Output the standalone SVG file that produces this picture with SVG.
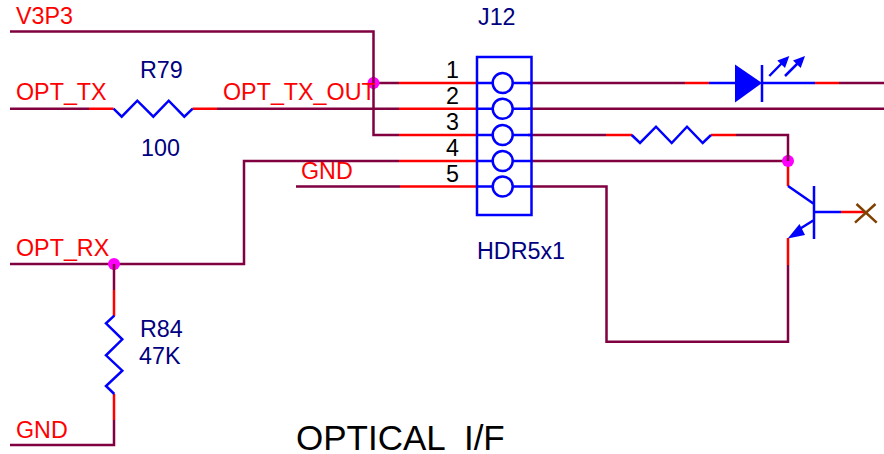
<svg xmlns="http://www.w3.org/2000/svg" width="884" height="454" viewBox="0 0 884 454">
<style>
text{font-family:"Liberation Sans",Arial,sans-serif;font-size:23.300px}
.net{fill:#ff0000}.ref{fill:#000080}.pin{fill:#000000}
.w,.r,.b,.x{fill:none;stroke-width:2.500;stroke-linejoin:miter;stroke-linecap:butt}
.w{stroke:#800040}.r{stroke:#ff0000}.b{stroke:#0000ff}.x{stroke:#804000}
.fb{fill:#0000ff}.dot{fill:#ff00ff}
</style>
<rect width="884" height="454" fill="#ffffff"/>
<g id="connectors">
<path class="w" d="M10 31.500H373.500V135H399"/>
<path class="w" d="M373.500 83H399M10 108.700H89M217 108.700H399M399 161H244V264H10M296 186.500H400M114 264V290M114 420V445H10"/>
<path class="w" d="M528 83H685M839 83H884M528 108.700H884M528 135H606M736 135H788V161M531 161H788M531 186.500H606.500V341.700H788V265"/>
<path class="r" d="M89 108.700H113.500M192.500 108.700H217M399 83H477M399 108.700H477M399 135H477M399 161H477M400 186.500H477M685 83H709M815 83H839M606 135H632M711 135H736M788 161V186M788 238V265M114 290V316M114 394V420M841 212H865"/>
</g>
<g id="R79">
<path class="b" d="M113.500 108.700L121.700 116.700L137.300 100.700L153.300 116.700L168.700 100.700L184.300 116.700L192.700 108.700"/>
<text class="ref" x="140" y="78">R79</text>
<text class="ref" x="141" y="156">100</text>
</g>
<g id="R84">
<path class="b" d="M114.300 315.700L106 323.300L122.300 339.300L106 355.300L122.300 370.700L106 386L114.300 394"/>
<text class="ref" x="140" y="337">R84</text>
<text class="ref" x="139" y="364">47K</text>
</g>
<g id="R-unnamed">
<path class="b" d="M631.700 135L640 143L656 126.700L671.700 143L687 126.700L702.700 143L711 135"/>
</g>
<g id="J12">
<rect class="b" x="477" y="57" width="54.500" height="158"/>
<circle class="b" cx="502.700" cy="83" r="10"/>
<circle class="b" cx="502.700" cy="108.700" r="10"/>
<circle class="b" cx="502.700" cy="135" r="10"/>
<circle class="b" cx="502.700" cy="161" r="10"/>
<circle class="b" cx="502.700" cy="186.500" r="10"/>
<path class="b" d="M477 83H492.700M512.700 83H531M477 108.700H492.700M512.700 108.700H531M477 135H492.700M512.700 135H531M477 161H492.700M512.700 161H531M477 186.500H492.700M512.700 186.500H531"/>
<text class="ref" x="478" y="25">J12</text>
<text class="ref" x="477" y="259">HDR5x1</text>
<text class="pin" x="446" y="78">1</text>
<text class="pin" x="446" y="104">2</text>
<text class="pin" x="446" y="130">3</text>
<text class="pin" x="446" y="156">4</text>
<text class="pin" x="446" y="182">5</text>
</g>
<g id="LED">
<path class="b" d="M709 83H735M762 83H815M762 65V102"/>
<polygon class="fb" points="735,64.500 762,83 735,102.500"/>
<path class="b" d="M769.300 76L783 62M785 76L799 62"/>
<polygon class="fb" points="789.300,56 777.300,60.500 785,68"/>
<polygon class="fb" points="805,56 793,60.500 800.700,68"/>
</g>
<g id="Q">
<path class="b" d="M788 186L814 204M814 186V239M814 212H841M814 220L798 230"/>
<polygon class="fb" points="787.700,238.500 799.500,224 805,235"/>
<path class="x" d="M855 222.700L875.500 204M856.500 204L876.700 222.700"/>
</g>
<g id="junctions">
<circle class="dot" cx="373.500" cy="83" r="6"/>
<circle class="dot" cx="788" cy="161" r="6"/>
<circle class="dot" cx="114" cy="264" r="6"/>
<path class="w" d="M373.500 77V89M788 155V161M114 264V270"/>
</g>
<g id="net-labels">
<text class="net" x="16" y="24">V3P3</text>
<text class="net" x="16" y="100">OPT_TX</text>
<text class="net" x="223" y="100">OPT_TX_OUT</text>
<text class="net" x="301" y="179">GND</text>
<text class="net" x="16" y="256">OPT_RX</text>
<text class="net" x="16" y="438">GND</text>
</g>
<text id="title" x="296" y="450" style="font-size:35px;white-space:pre" fill="#000000">OPTICAL  I/F</text>
</svg>
